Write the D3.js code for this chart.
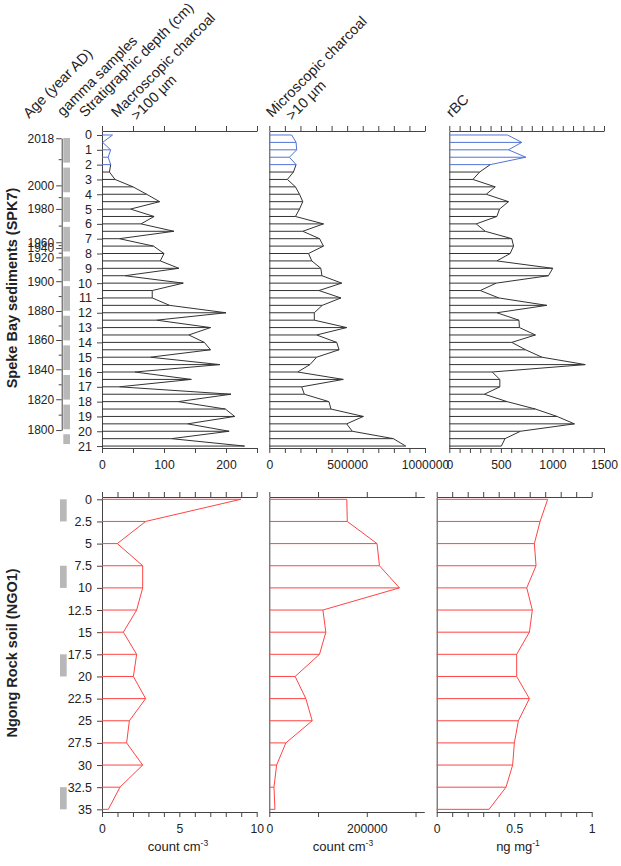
<!DOCTYPE html>
<html lang="en">
<head>
<meta charset="utf-8">
<script src="https://d3js.org/d3.v7.min.js"></script>
<style>
  body { margin: 0; background: #fff; }
  svg text { font-family: "Liberation Sans", Arial, sans-serif; fill: #222; }
  .axis path, .axis line { stroke: #444; }
</style>
</head>
<body>
<script>
// Speke Bay sediments (SPK7), one sample every 0.5 cm
const spkDepth = [0, 0.5, 1, 1.5, 2, 2.5, 3, 3.5, 4, 4.5, 5, 5.5, 6, 6.5, 7, 7.5, 8, 8.5, 9, 9.5, 10,
  10.5, 11, 11.5, 12, 12.5, 13, 13.5, 14, 14.5, 15, 15.5, 16, 16.5, 17, 17.5, 18, 18.5, 19, 19.5, 20, 20.5, 21];
const spkMacro = [17, 1, 14, 10, 14, 12, 21, 50, 72, 93, 46, 84, 63, 116, 28, 83, 100, 94, 124, 37, 131,
  81, 81, 109, 200, 88, 175, 140, 165, 175, 78, 190, 53, 144, 28, 208, 123, 199, 214, 138, 205, 112, 230];
const spkMicro = [144000, 172000, 176000, 129000, 172000, 155000, 116000, 168000, 194000, 215000, 194000,
  168000, 348000, 215000, 323000, 348000, 252000, 273000, 331000, 338000, 465000, 319000, 460000, 340000,
  289000, 289000, 497000, 304000, 433000, 448000, 304000, 261000, 182000, 475000, 208000, 225000, 383000,
  396000, 604000, 497000, 533000, 797000, 876000];
const spkRBC = [565, 703, 574, 742, 397, 294, 229, 445, 358, 574, 487, 461, 261, 348, 606, 623, 590, 461,
  1003, 961, 455, 300, 480, 945, 461, 675, 680, 835, 606, 740, 898, 1318, 416, 490, 490, 340, 560, 835,
  1045, 1213, 690, 540, 505];
const spkRecent = 5; // samples 0-2 cm drawn in blue

// age model labels on the depth scale
const ageYears = [2018, 2000, 1980, 1960, 1940, 1920, 1900, 1880, 1860, 1840, 1820, 1800];
const ageDepths = [0.22, 3.4, 4.99, 7.24, 7.63, 8.26, 9.87, 11.88, 13.84, 15.82, 17.84, 19.92];
const ageMinor = [2010, 1990, 1970, 1950, 1930, 1910, 1890, 1870, 1850, 1830, 1810];
const spkGamma = [[0, 2], [2, 4], [4, 6], [6, 8], [8, 10], [10, 12], [12, 14], [14, 16], [16, 18], [18, 20], [20, 21]];

// Ngong Rock soil (NGO1), one sample every 2.5 cm
const ngoDepth = [0, 2.5, 5, 7.5, 10, 12.5, 15, 17.5, 20, 22.5, 25, 27.5, 30, 32.5, 35];
const ngoMacro = [8.97, 2.82, 0.99, 2.63, 2.63, 2.24, 1.38, 2.24, 2.03, 2.82, 1.77, 1.59, 2.63, 1.16, 0.41];
const ngoMicro = [159000, 160000, 221000, 226000, 267000, 110000, 116000, 103000, 53000, 75000, 88000,
  34000, 15000, 9600, 11600];
const ngoRBC = [0.716, 0.667, 0.63, 0.641, 0.581, 0.617, 0.598, 0.516, 0.516, 0.598, 0.527, 0.501, 0.49, 0.447, 0.338];
const ngoGamma = [[0, 2.5], [7.5, 10], [17.5, 20], [32.5, 35]];

// tick labels
const spkDepthLabels = d3.range(0, 22, 1);
const ngoDepthLabels = ngoDepth;
const spkMacroLabels = [0, 100, 200];
const spkMicroLabels = [0, 500000, 1000000];
const spkRBCLabels = [0, 500, 1000, 1500];
const ngoMacroLabels = [0, 5, 10];
const ngoMicroLabels = [0, 200000];
const ngoRBCLabels = [0, 0.5, 1];

const black = "#333", blue = "#5274d6", red = "#ff4444", grey = "#b8b8b8";
const plain = d => String(d);

const svg = d3.select("body").append("svg")
  .attr("width", 621).attr("height", 866);

// depth scales
const yTop = d3.scaleLinear().domain([-0.27, 21.13]).range([131, 448]);
const yBot = d3.scaleLinear().domain([-0.26, 35.3]).range([497, 812]);

// x scales of the six panels
const xs = {
  spkMacro: d3.scaleLinear().domain([0, 250]).range([102, 257]),
  spkMicro: d3.scaleLinear().domain([0, 1000000]).range([269.3, 425]),
  spkRBC: d3.scaleLinear().domain([0, 1500]).range([449.3, 604]),
  ngoMacro: d3.scaleLinear().domain([0, 10]).range([102, 256.7]),
  ngoMicro: d3.scaleLinear().domain([0, 318000]).range([269.3, 424.3]),
  ngoRBC: d3.scaleLinear().domain([0, 1]).range([436.7, 591.7])
};

function xAxes(x, y, step, labels) {
  const ticks = d3.range(x.domain()[0], x.domain()[1] + step / 2, step).map(v => +v.toFixed(6));
  const [y0, y1] = y.range();
  svg.append("g").attr("class", "axis")
    .attr("transform", `translate(0,${y0})`)
    .call(d3.axisTop(x).tickValues(ticks).tickSize(5).tickSizeOuter(0).tickFormat(""));
  const bottom = svg.append("g").attr("class", "axis")
    .attr("transform", `translate(0,${y1})`)
    .call(d3.axisBottom(x).tickValues(ticks).tickSize(5).tickSizeOuter(0).tickPadding(7)
      .tickFormat(d => labels.includes(d) ? plain(d) : ""));
  bottom.selectAll("text").attr("font-size", 12.2).attr("font-family", null);
  // left edge of the panel
  svg.append("g").attr("class", "axis")
    .attr("transform", `translate(${x(0)},0)`)
    .call(d3.axisLeft(y).tickValues([]).tickSizeOuter(0));
}

function profile(x, y, depths, values, colour) {
  const g = svg.append("g").attr("fill", "none").attr("stroke-width", 1);
  g.selectAll("line").data(depths).join("line")
    .attr("x1", x(0)).attr("x2", (d, i) => x(values[i]))
    .attr("y1", d => y(d)).attr("y2", d => y(d))
    .attr("stroke", (d, i) => colour(i));
  const line = d3.line().x(d => x(d[1])).y(d => y(d[0]));
  const pts = depths.map((d, i) => [d, values[i]]);
  const split = colour(0) === colour(depths.length - 1) ? 0 : spkRecent - 1;
  if (split > 0) {
    g.append("path").attr("d", line(pts.slice(0, split + 1))).attr("stroke", colour(0));
  }
  g.append("path").attr("d", line(pts.slice(split))).attr("stroke", colour(depths.length - 1));
}

// ---- Speke Bay ----
const spkColour = i => i < spkRecent ? blue : black;
xAxes(xs.spkMacro, yTop, 50, spkMacroLabels);
xAxes(xs.spkMicro, yTop, 100000, spkMicroLabels);
xAxes(xs.spkRBC, yTop, 100, spkRBCLabels);
profile(xs.spkMacro, yTop, spkDepth, spkMacro, spkColour);
profile(xs.spkMicro, yTop, spkDepth, spkMicro, spkColour);
profile(xs.spkRBC, yTop, spkDepth, spkRBC, spkColour);

svg.append("g").attr("class", "axis")
  .attr("transform", `translate(${xs.spkMacro(0)},0)`)
  .call(d3.axisLeft(yTop).tickValues(spkDepthLabels).tickSize(5).tickPadding(5).tickSizeOuter(0).tickFormat(plain))
  .call(g => g.select(".domain").remove())
  .selectAll("text").attr("font-size", 12.5).attr("font-family", null);

// age axis, placed through the age-depth model
const ageY = d3.scaleLinear().domain(ageYears).range(ageDepths.map(yTop));
svg.append("g").attr("class", "axis")
  .attr("transform", "translate(61.7,0)")
  .call(d3.axisLeft(ageY).tickValues(ageYears).tickSize(5.5).tickPadding(2).tickSizeOuter(0).tickFormat(plain))
  .selectAll("text").attr("font-size", 12).attr("font-family", null);
svg.append("g").attr("class", "axis")
  .attr("transform", "translate(61.7,0)")
  .call(d3.axisLeft(ageY).tickValues(ageMinor).tickSize(3).tickFormat("").tickSizeOuter(0))
  .call(g => g.select(".domain").remove());

svg.append("g").selectAll("rect").data(spkGamma).join("rect")
  .attr("x", 63.3).attr("width", 6.7)
  .attr("y", d => yTop(d[0]) + 3).attr("height", d => yTop(d[1]) - yTop(d[0]) - 5)
  .attr("fill", grey);

// ---- Ngong Rock ----
const ngoColour = () => red;
xAxes(xs.ngoMacro, yBot, 1, ngoMacroLabels);
xAxes(xs.ngoMicro, yBot, 100000, ngoMicroLabels);
xAxes(xs.ngoRBC, yBot, 0.1, ngoRBCLabels);
profile(xs.ngoMacro, yBot, ngoDepth, ngoMacro, ngoColour);
profile(xs.ngoMicro, yBot, ngoDepth, ngoMicro, ngoColour);
profile(xs.ngoRBC, yBot, ngoDepth, ngoRBC, ngoColour);

svg.append("g").attr("class", "axis")
  .attr("transform", `translate(${xs.ngoMacro(0)},0)`)
  .call(d3.axisLeft(yBot).tickValues(ngoDepthLabels).tickSize(5).tickPadding(5).tickSizeOuter(0).tickFormat(plain))
  .call(g => g.select(".domain").remove())
  .selectAll("text").attr("font-size", 12.5).attr("font-family", null);

svg.append("g").selectAll("rect").data(ngoGamma).join("rect")
  .attr("x", 60).attr("width", 6.7)
  .attr("y", d => yBot(d[0])).attr("height", d => yBot(d[1]) - yBot(d[0]))
  .attr("fill", grey);

// ---- titles ----
const headers = [
  { t: "Age (year AD)", x: 29, y: 119 },
  { t: "gamma samples", x: 63, y: 117 },
  { t: "Stratigraphic depth (cm)", x: 85, y: 118 },
  { t: "Macroscopic charcoal", x: 117, y: 118 },
  { t: ">100 µm", x: 137, y: 121 },
  { t: "Microscopic charcoal", x: 272, y: 118 },
  { t: ">10 µm", x: 292, y: 121 },
  { t: "rBC", x: 452, y: 118 }
];
svg.append("g").selectAll("text").data(headers).join("text")
  .attr("transform", d => `translate(${d.x},${d.y}) rotate(-45)`)
  .attr("font-size", 14.5)
  .text(d => d.t);

const sideTitles = [
  { t: "Speke Bay sediments (SPK7)", y: 288 },
  { t: "Ngong Rock soil (NGO1)", y: 653 }
];
svg.append("g").selectAll("text").data(sideTitles).join("text")
  .attr("transform", d => `translate(17,${d.y}) rotate(-90)`)
  .attr("text-anchor", "middle").attr("font-size", 14.5).attr("font-weight", "bold")
  .text(d => d.t);

const units = [
  { t: "count cm", sup: "-3", x: 178 },
  { t: "count cm", sup: "-3", x: 343 },
  { t: "ng mg", sup: "-1", x: 518 }
];
const u = svg.append("g").selectAll("text").data(units).join("text")
  .attr("x", d => d.x).attr("y", 851)
  .attr("text-anchor", "middle").attr("font-size", 13);
u.append("tspan").text(d => d.t);
u.append("tspan").attr("dy", -5).attr("font-size", 8.5).text(d => d.sup);
</script>
</body>
</html>
